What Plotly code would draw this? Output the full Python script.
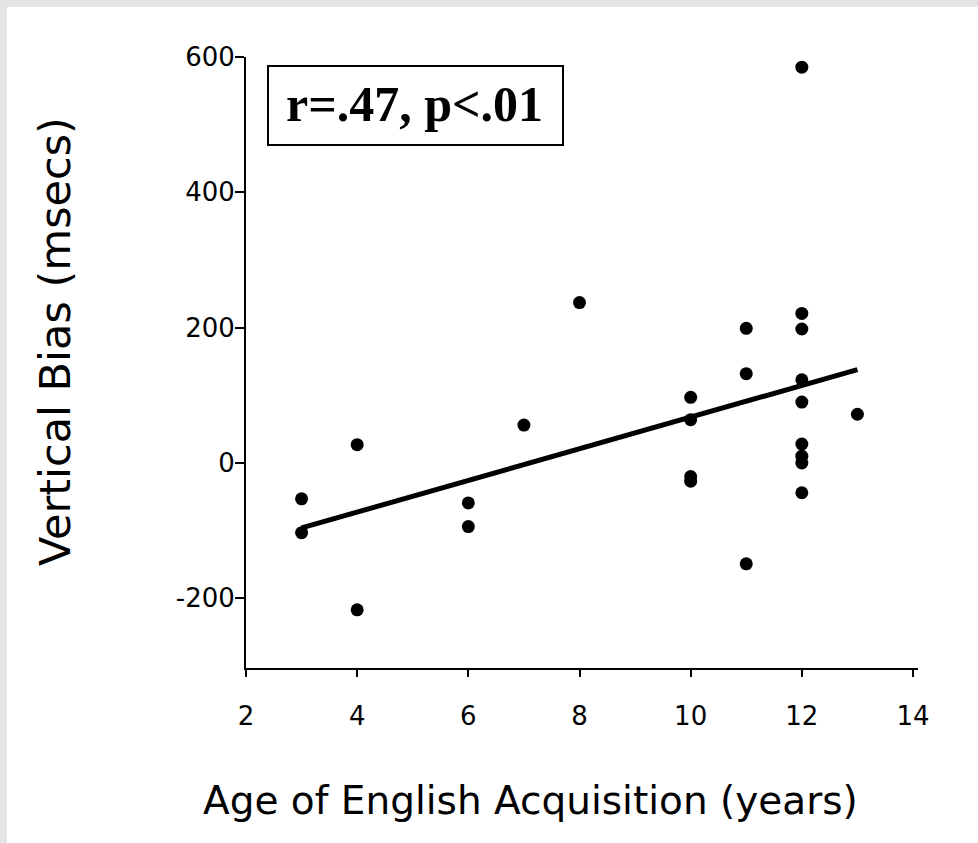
import plotly.graph_objects as go

# Data
age_years = [3, 3, 4, 4, 6, 6, 7, 8, 10, 10, 10, 10, 11, 11, 11,
             12, 12, 12, 12, 12, 12, 12, 12, 12, 13]
vertical_bias = [-53, -103, 27, -217, -59, -94, 56, 237, 97, 64, -20, -27,
                 199, 132, -149, 585, 221, 198, 123, 90, 28, 10, 0, -44, 72]

fit_x = [3, 13]
fit_y = [-96, 138]

x_ticks = [2, 4, 6, 8, 10, 12, 14]
y_ticks = [-200, 0, 200, 400, 600]
y_tick_labels = ["-200", "0", "200", "400", "600"]

stats_text = "r=.47, p<.01"
x_title = "Age of English Acquisition (years)"
y_title = "Vertical Bias (msecs)"

W, H = 978, 843
L, R, T, B = 246, 60, 57, 175
PW, PH = W - L - R, H - T - B


def px_to_paper_x(px):
    return (px - L) / PW


def px_to_paper_y(py):
    return (H - B - py) / PH


fig = go.Figure()

fig.add_trace(go.Scatter(
    x=fit_x, y=fit_y, mode="lines",
    line=dict(color="black", width=5),
    showlegend=False, hoverinfo="skip"))

fig.add_trace(go.Scatter(
    x=age_years, y=vertical_bias, mode="markers",
    marker=dict(color="black", size=13, line=dict(width=0)),
    showlegend=False))

axis_font = dict(family="DejaVu Sans", size=26, color="black")

fig.update_xaxes(
    range=[2, 14.09], tickvals=x_ticks, ticks="outside", ticklen=7,
    tickwidth=2, tickcolor="black", showline=True, linecolor="black",
    linewidth=2, showgrid=False, zeroline=False, tickfont=axis_font,
    ticklabelstandoff=17)
fig.update_yaxes(
    range=[-303, 600], tickvals=y_ticks, ticktext=y_tick_labels,
    ticks="outside", ticklen=9,
    tickwidth=2, tickcolor="black", showline=True, linecolor="black",
    linewidth=2, showgrid=False, zeroline=False, tickfont=axis_font,
    ticklabelstandoff=-5)

shapes = [
    # white page area (the reference has a thin grey border on top/left)
    dict(type="rect", xref="paper", yref="paper", layer="below",
         x0=px_to_paper_x(7), x1=px_to_paper_x(990),
         y0=px_to_paper_y(860), y1=px_to_paper_y(7),
         fillcolor="white", line=dict(width=0)),
    # stats box
    dict(type="rect", xref="paper", yref="paper",
         x0=px_to_paper_x(268), x1=px_to_paper_x(563),
         y0=px_to_paper_y(145), y1=px_to_paper_y(66),
         fillcolor="white", line=dict(color="black", width=2)),
]

annotations = [
    dict(text="<b>" + stats_text + "</b>", xref="paper", yref="paper",
         x=px_to_paper_x(414), y=px_to_paper_y(104),
         xanchor="center", yanchor="middle", showarrow=False,
         font=dict(family="Liberation Serif", size=50, color="black")),
    dict(text=x_title, xref="paper", yref="paper",
         x=px_to_paper_x(530), y=px_to_paper_y(800),
         xanchor="center", yanchor="middle", showarrow=False,
         font=dict(family="DejaVu Sans", size=39, color="black")),
    dict(text=y_title, xref="paper", yref="paper",
         x=px_to_paper_x(55), y=px_to_paper_y(342), textangle=-90,
         xanchor="center", yanchor="middle", showarrow=False,
         font=dict(family="DejaVu Sans", size=43, color="black")),
]

fig.update_layout(
    width=W, height=H,
    margin=dict(l=L, r=R, t=T, b=B, pad=0),
    paper_bgcolor="#e4e4e4", plot_bgcolor="white",
    shapes=shapes, annotations=annotations,
    showlegend=False)

fig.write_html("out.html",
               config={"displayModeBar": False},
               post_script="document.body.style.margin='0';"
                           "document.body.style.overflow='hidden';")
